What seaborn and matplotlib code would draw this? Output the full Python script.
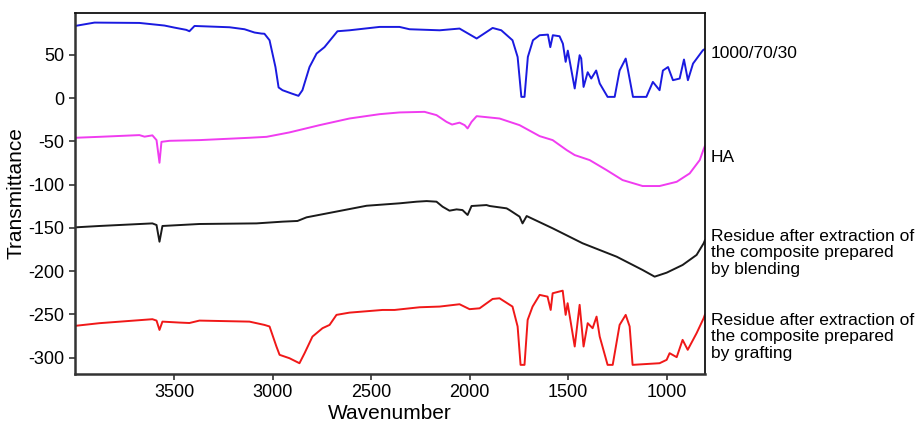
import matplotlib
matplotlib.use("Agg")
import pandas as pd
import seaborn as sns
from matplotlib import pyplot as plt

# FTIR spectra (wavenumber, transmittance)
blend_wn = [4005, 3906, 3678, 3551, 3500, 3440, 3424, 3398, 3220, 3144, 3093, 3058, 3043, 3017,
            2987, 2971, 2951, 2905, 2870, 2850, 2814, 2778, 2738, 2672, 2611, 2458, 2357, 2306,
            2153, 2052, 1965, 1884, 1840, 1783, 1757, 1738, 1722, 1705, 1679, 1645, 1603, 1591,
            1578, 1544, 1527, 1513, 1502, 1467, 1442, 1434, 1422, 1401, 1383, 1358, 1340, 1300,
            1264, 1239, 1208, 1196, 1171, 1103, 1070, 1036, 1019, 993, 968, 934, 912, 892, 866,
            841, 816, 805]
blend_t = [83.5, 87.4, 87, 84, 81.6, 79, 77.4, 83.5, 82, 79.7, 75.9, 74.7, 74.5, 67,
           36, 12.4, 9.2, 5.4, 2.7, 9.2, 36, 51.6, 59, 77.4, 78.5, 82.4, 82.4, 79.7,
           78.5, 80.5, 69, 81.2, 78.5, 67, 47.7, 1.5, 1.5, 47.7, 67, 72.8, 73.5, 59,
           72.8, 71.6, 63, 42, 55, 11.2, 49.7, 46, 13, 30, 22.7, 32, 17, 1.5,
           1.5, 32, 45.8, 32, 1.5, 1.5, 18.8, 9.2, 32, 36, 20.8, 22.7, 44.7, 20.8, 40,
           47.7, 55.4, 57]

ha_wn = [4005, 3881, 3678, 3652, 3612, 3591, 3576, 3566, 3525, 3373, 3119, 3032, 2916, 2763,
         2611, 2458, 2357, 2230, 2169, 2118, 2090, 2052, 2026, 2011, 1991, 1965, 1849, 1747,
         1645, 1579, 1508, 1467, 1391, 1305, 1224, 1122, 1036, 949, 883, 832, 812, 805]
ha_t = [-45.8, -44.7, -42.7, -44.5, -43, -48.5, -74.7, -50.5, -49.3, -48.5, -45.8, -44.7, -39.6, -31.2,
        -23.5, -18.5, -16.5, -15.8, -19.6, -27.4, -30.5, -28.3, -31.2, -35, -27.4, -20.8, -23.5, -31.2,
        -43.9, -48.5, -60, -65.8, -71.6, -83.2, -94.7, -101.6, -101.6, -96.7, -87, -71.6, -58.9, -55]

resb_wn = [4005, 3881, 3612, 3591, 3576, 3561, 3373, 3083, 2951, 2875, 2829, 2697, 2524, 2357,
           2270, 2219, 2169, 2138, 2103, 2067, 2037, 2011, 1991, 1915, 1899, 1813, 1798, 1747,
           1732, 1711, 1579, 1427, 1254, 1122, 1061, 1000, 919, 848, 812, 805]
resb_t = [-149.4, -147.8, -144.8, -146.7, -166, -147.8, -145.5, -144.8, -142.8, -142, -137.8, -132, -124.4, -121.6,
          -119.7, -119, -119.7, -125.5, -130.1, -128.6, -129.4, -135.1, -124.7, -123.6, -124.7, -127.4, -129.4, -137,
          -144.8, -136.3, -150.5, -167.8, -183.3, -198.7, -206.4, -201.8, -192.9, -181.3, -167.8, -164]

resg_wn = [4005, 3881, 3612, 3591, 3576, 3561, 3474, 3424, 3373, 3119, 3043, 3017, 2982, 2966,
           2916, 2865, 2839, 2799, 2748, 2712, 2677, 2611, 2443, 2382, 2255, 2153, 2052, 2001,
           1950, 1884, 1849, 1783, 1757, 1742, 1722, 1706, 1681, 1645, 1605, 1589, 1579, 1528,
           1513, 1503, 1467, 1442, 1422, 1401, 1376, 1356, 1340, 1300, 1274, 1239, 1208, 1188,
           1173, 1036, 1000, 985, 949, 919, 893, 848, 812, 805]
resg_t = [-263.3, -260.2, -255.6, -257.2, -268, -258.4, -259.5, -260, -257.2, -258.4, -262.2, -264, -287.2, -296.8,
          -300.7, -306.5, -294.9, -275.7, -266, -262.2, -250.6, -248, -244.9, -244.9, -241.8, -241, -238.3, -244,
          -243, -232.2, -231.4, -241, -264, -308.4, -308.4, -256.4, -241, -227.5, -229.5, -244.9, -225.6, -222.6,
          -250.6, -237.1, -287.2, -239, -287.2, -260.2, -266, -252.6, -275.7, -308.4, -308.4, -262.2, -250.6, -264,
          -308.4, -306.5, -302.6, -294.9, -299.5, -279.5, -291, -271.8, -254.4, -250]

series = ["1000/70/30", "HA",
          "Residue after extraction of\nthe composite prepared\nby blending",
          "Residue after extraction of\nthe composite prepared\nby grafting"]
label_y = [52, -69, -179, -276]
colors = ["#1a1ae0", "#f03cf0", "#1a1a1a", "#f01818"]

frames = []
for name, wn, t in zip(series, [blend_wn, ha_wn, resb_wn, resg_wn], [blend_t, ha_t, resb_t, resg_t]):
    frames.append(pd.DataFrame({"Wavenumber": wn, "Transmittance": t, "sample": name}))
df = pd.concat(frames, ignore_index=True)

sns.set_style("ticks")
plt.rcParams["font.family"] = ["Liberation Sans", "DejaVu Sans"]
plt.rcParams["axes.unicode_minus"] = False
for key in ["text.color", "axes.labelcolor", "xtick.labelcolor", "ytick.labelcolor"]:
    plt.rcParams[key] = "black"

fig = plt.figure(figsize=(9.16, 4.26), dpi=100)
ax = fig.add_axes([0.0819, 0.122, 0.6878, 0.8475])

sns.lineplot(data=df, x="Wavenumber", y="Transmittance", hue="sample", hue_order=series,
             palette=colors, lw=1.4, legend=False, ax=ax, estimator=None)

ax.set_xlim(4005, 805)
ax.set_ylim(-319, 98.5)
ax.set_xticks([3500, 3000, 2500, 2000, 1500, 1000])
ax.set_yticks(range(-300, 51, 50))
ax.tick_params(labelsize=13, length=4, width=1.2, color="#333333")
ax.set_xlabel("Wavenumber", fontsize=15, labelpad=2)
ax.set_ylabel("Transmittance", fontsize=15, labelpad=2)

for side in ["left", "bottom"]:
    ax.spines[side].set_linewidth(1.8)
    ax.spines[side].set_color("#333333")
for side in ["top", "right"]:
    ax.spines[side].set_visible(True)
    ax.spines[side].set_linewidth(1.3)
    ax.spines[side].set_color("#111111")

for name, y in zip(series, label_y):
    ax.annotate(name, xy=(1.0095, y), xycoords=("axes fraction", "data"),
                fontsize=12.5, va="center", ha="left", linespacing=1.15, annotation_clip=False)

fig.savefig("out.png", dpi=100)
